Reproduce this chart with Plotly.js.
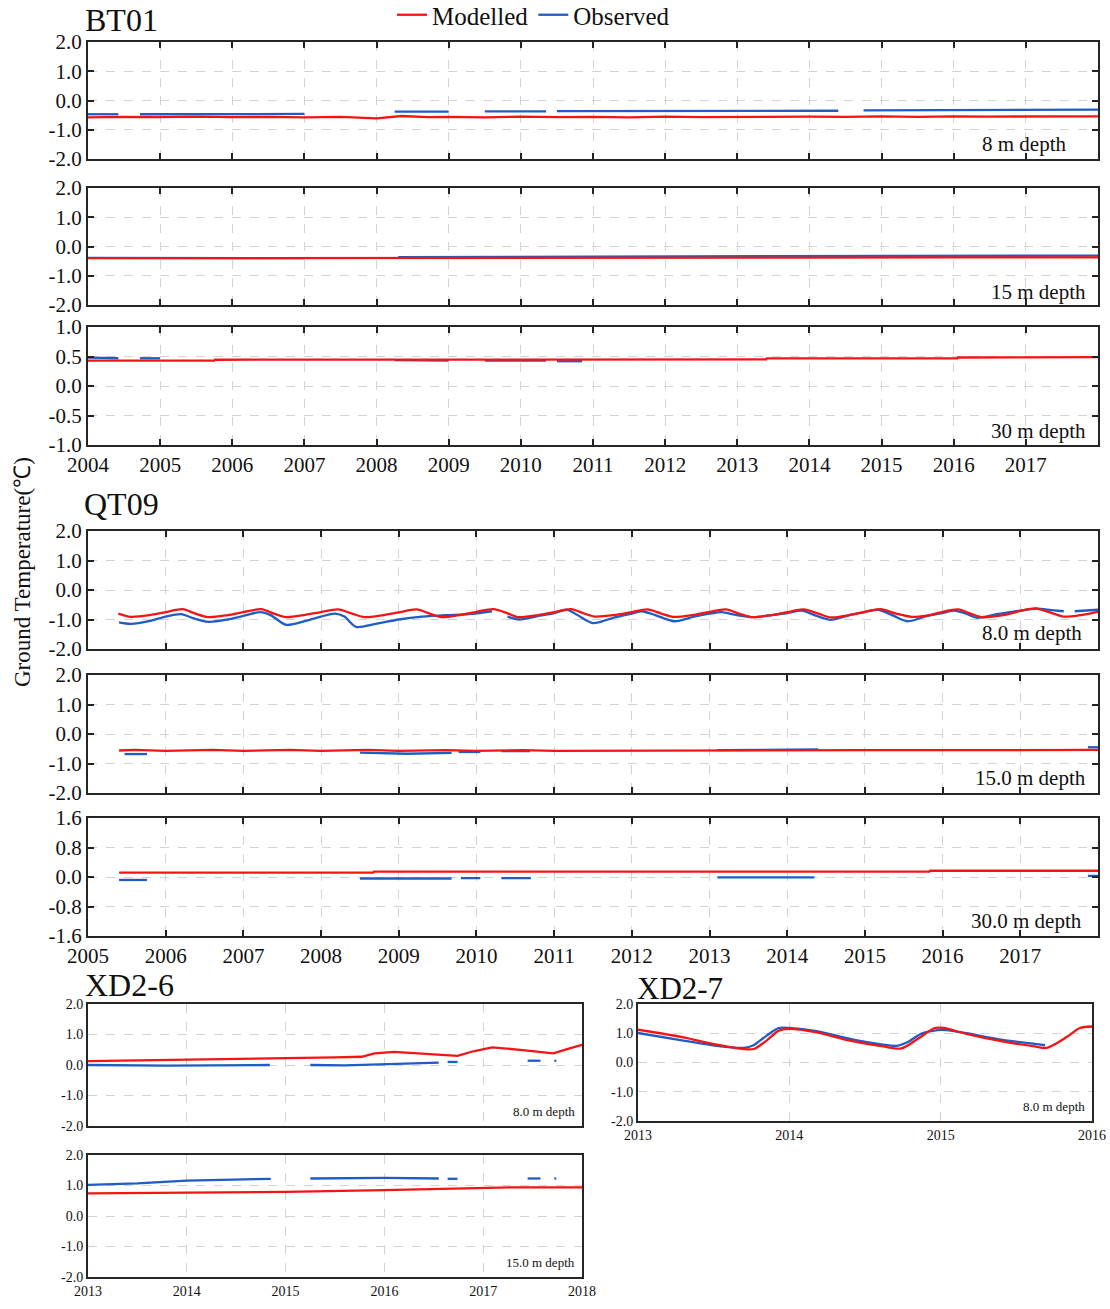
<!DOCTYPE html>
<html>
<head>
<meta charset="utf-8">
<script src="https://cdn.plot.ly/plotly-3.0.1.min.js"></script>
<style>html,body{margin:0;padding:0;background:#fff;}#chart{width:1110px;height:1309px;}</style>
</head>
<body>
<div id="chart"></div>
<script>
// ================= DATA =================
// Tick labels
const bt01Years = [2004,2005,2006,2007,2008,2009,2010,2011,2012,2013,2014,2015,2016,2017];
const qt09Years = [2005,2006,2007,2008,2009,2010,2011,2012,2013,2014,2015,2016,2017];
const xd26Years = [2013,2014,2015,2016,2017,2018];
const xd27Years = [2013,2014,2015,2016];
const tempTicks2 = [-2,-1,0,1,2];
const tempLabels2 = ['-2.0','-1.0','0.0','1.0','2.0'];
const tempTicks1 = [-1,-0.5,0,0.5,1];
const tempLabels1 = ['-1.0','-0.5','0.0','0.5','1.0'];
const tempTicks16 = [-1.6,-0.8,0,0.8,1.6];
const tempLabels16 = ['-1.6','-0.8','0.0','0.8','1.6'];

// BT01 8 m
const bt01_8_modX = [2004.0,2004.5,2005.0,2005.5,2006.0,2006.5,2007.0,2007.5,2008.0,2008.35,2008.7,2009.0,2009.5,2010.0,2010.5,2011.0,2011.5,2012.0,2012.5,2013.0,2013.5,2014.0,2014.5,2015.0,2015.5,2016.0,2016.5,2017.0,2017.5,2018.0];
const bt01_8_modY = [-0.58,-0.56,-0.57,-0.55,-0.57,-0.56,-0.58,-0.56,-0.61,-0.53,-0.57,-0.56,-0.58,-0.55,-0.57,-0.56,-0.58,-0.55,-0.57,-0.56,-0.57,-0.55,-0.56,-0.54,-0.56,-0.54,-0.55,-0.54,-0.55,-0.54];
const bt01_8_obsX = [2004.0,2004.42,null,2004.72,2005.5,2006.5,2007.0,null,2008.25,2009.0,null,2009.5,2010.35,null,2010.5,2011.5,2012.5,2013.5,2014.4,null,2014.75,2015.5,2016.5,2017.5,2018.0];
const bt01_8_obsY = [-0.47,-0.47,null,-0.47,-0.46,-0.46,-0.46,null,-0.38,-0.38,null,-0.37,-0.37,null,-0.36,-0.36,-0.35,-0.35,-0.35,null,-0.34,-0.33,-0.33,-0.32,-0.31];
// BT01 15 m
const bt01_15_modX = [2004.0,2006.0,2008.0,2010.0,2012.0,2014.0,2016.0,2018.0];
const bt01_15_modY = [-0.4,-0.4,-0.39,-0.39,-0.38,-0.38,-0.37,-0.37];
const bt01_15_obsX = [2004.0,2005.0,2006.0,2007.0,null,2008.3,2010.0,2012.0,2014.0,2016.0,2018.0];
const bt01_15_obsY = [-0.39,-0.39,-0.4,-0.4,null,-0.36,-0.35,-0.34,-0.33,-0.32,-0.31];
// BT01 30 m
const bt01_30_modX = [2004.0,2005.75,2005.76,2008.3,2010.0,2013.4,2013.41,2016.05,2016.06,2018.0];
const bt01_30_modY = [0.43,0.43,0.445,0.445,0.45,0.45,0.467,0.47,0.483,0.49];
const bt01_30_obsX = [2004.0,2004.42,null,2004.72,2005.0,null,2008.25,2009.0,null,2009.5,2010.35,null,2010.5,2010.85];
const bt01_30_obsY = [0.48,0.47,null,0.47,0.47,null,0.44,0.43,null,0.43,0.43,null,0.42,0.42];

// QT09 8.0 m
const qt09_8_modX = [2005.39,2005.55,2005.8,
  2006.0,2006.22,2006.38,2006.55,2006.8,
  2007.0,2007.23,2007.4,2007.55,2007.8,
  2008.0,2008.22,2008.4,2008.56,2008.8,
  2009.0,2009.23,2009.4,2009.55,2009.8,
  2010.0,2010.22,2010.4,2010.53,2010.8,
  2011.0,2011.22,2011.38,2011.52,2011.8,
  2012.0,2012.2,2012.38,2012.53,2012.8,
  2013.0,2013.21,2013.38,2013.54,2013.8,
  2014.0,2014.21,2014.4,2014.56,2014.8,
  2015.0,2015.2,2015.4,2015.6,2015.85,
  2016.0,2016.2,2016.36,2016.5,2016.8,
  2017.0,2017.19,2017.38,2017.56,2017.8,
  2018.0];
const qt09_8_modY = [-0.8,-0.91,-0.85,
  -0.75,-0.65,-0.8,-0.92,-0.85,
  -0.75,-0.65,-0.81,-0.92,-0.84,
  -0.75,-0.66,-0.8,-0.92,-0.85,
  -0.76,-0.66,-0.8,-0.92,-0.84,
  -0.74,-0.65,-0.79,-0.92,-0.85,
  -0.75,-0.65,-0.79,-0.9,-0.84,
  -0.75,-0.66,-0.8,-0.91,-0.84,
  -0.74,-0.66,-0.8,-0.92,-0.85,
  -0.75,-0.66,-0.8,-0.93,-0.85,
  -0.74,-0.65,-0.8,-0.91,-0.84,
  -0.74,-0.66,-0.8,-0.92,-0.84,
  -0.71,-0.62,-0.76,-0.9,-0.84,
  -0.74];
const qt09_8_obsX = [2005.4,2005.55,2005.8,2006.0,2006.2,2006.35,2006.55,2006.8,2007.0,2007.22,2007.35,2007.55,2007.8,2008.0,2008.18,2008.3,2008.45,2008.7,2009.0,2009.3,2009.6,2009.9,2010.2,null,
  2010.4,2010.55,2010.8,2011.0,2011.17,2011.3,2011.5,2011.75,2012.0,2012.13,2012.3,2012.55,2012.8,2013.0,2013.16,2013.35,2013.58,2013.8,2014.0,2014.19,2014.35,2014.56,2014.8,2015.0,2015.17,2015.35,2015.55,2015.8,2016.0,2016.15,2016.3,2016.44,2016.7,2017.0,2017.21,2017.4,2017.56,null,2017.7,2018.0];
const qt09_8_obsY = [-1.1,-1.15,-1.05,-0.9,-0.82,-0.95,-1.08,-1.0,-0.88,-0.75,-0.85,-1.18,-1.05,-0.9,-0.8,-0.9,-1.25,-1.15,-1.0,-0.9,-0.85,-0.82,-0.72,null,
  -0.9,-1.0,-0.88,-0.78,-0.67,-0.85,-1.12,-0.95,-0.8,-0.72,-0.85,-1.06,-0.9,-0.8,-0.75,-0.85,-0.92,-0.85,-0.78,-0.7,-0.85,-1.01,-0.85,-0.75,-0.67,-0.85,-1.06,-0.88,-0.78,-0.7,-0.8,-0.94,-0.82,-0.7,-0.63,-0.68,-0.72,null,-0.72,-0.67];
// QT09 15.0 m
const qt09_15_modX = [2005.4,2005.6,2006.0,2006.6,2007.0,2007.6,2008.0,2008.6,2009.0,2009.6,2010.0,2010.6,2011.0,2012.0,2013.0,2014.0,2015.0,2016.0,2017.0,2018.0];
const qt09_15_modY = [-0.56,-0.54,-0.57,-0.54,-0.57,-0.54,-0.57,-0.54,-0.57,-0.55,-0.57,-0.55,-0.57,-0.56,-0.56,-0.56,-0.55,-0.55,-0.55,-0.54];
const qt09_15_obsX = [2005.47,2005.76,null,2008.5,2009.1,2009.68,null,2009.77,2010.05,null,2010.32,2010.69,null,2013.1,2013.8,2014.4,null,2017.87,2018.0];
const qt09_15_obsY = [-0.68,-0.68,null,-0.63,-0.67,-0.64,null,-0.61,-0.61,null,-0.58,-0.58,null,-0.55,-0.53,-0.52,null,-0.45,-0.45];
// QT09 30.0 m
const qt09_30_modX = [2005.4,2008.67,2008.68,2015.83,2015.84,2018.0];
const qt09_30_modY = [0.12,0.12,0.145,0.145,0.17,0.17];
const qt09_30_obsX = [2005.4,2005.76,null,2008.5,2009.68,null,2009.8,2010.05,null,2010.32,2010.7,null,2013.1,2014.35,null,2017.87,2018.0];
const qt09_30_obsY = [-0.08,-0.08,null,-0.04,-0.04,null,-0.03,-0.03,null,-0.03,-0.03,null,-0.01,-0.01,null,0.03,0.03];

// XD2-6 8.0 m
const xd26_8_modX = [2013.0,2013.5,2014.0,2014.5,2015.0,2015.5,2015.77,2015.9,2016.1,2016.4,2016.74,2016.9,2017.09,2017.4,2017.71,2017.85,2018.0];
const xd26_8_modY = [0.13,0.15,0.17,0.19,0.21,0.25,0.27,0.38,0.43,0.37,0.3,0.45,0.58,0.49,0.38,0.52,0.66];
const xd26_8_obsX = [2013.0,2013.8,2014.84,null,2015.25,2015.6,2015.95,2016.2,2016.55,null,2016.64,2016.74,null,2017.45,2017.58,null,2017.72,2017.74];
const xd26_8_obsY = [0.0,-0.02,0.0,null,0.0,-0.01,0.02,0.05,0.08,null,0.1,0.1,null,0.14,0.14,null,0.14,0.14];
// XD2-6 15.0 m
const xd26_15_modX = [2013.0,2014.0,2015.0,2016.0,2016.5,2017.0,2017.3,2018.0];
const xd26_15_modY = [0.74,0.76,0.79,0.85,0.88,0.9,0.94,0.94];
const xd26_15_obsX = [2013.0,2013.5,2014.0,2014.5,2014.85,null,2015.25,2016.0,2016.55,null,2016.64,2016.74,null,2017.45,2017.58,null,2017.72,2017.74];
const xd26_15_obsY = [1.02,1.07,1.16,1.19,1.22,null,1.23,1.25,1.23,null,1.22,1.22,null,1.23,1.23,null,1.23,1.23];
// XD2-7 8.0 m
const xd27_8_modX = [2013.0,2013.3,2013.52,2013.72,2013.77,2013.85,2013.93,2014.0,2014.18,2014.4,2014.62,2014.74,2014.85,2014.96,2015.02,2015.17,2015.4,2015.62,2015.7,2015.83,2015.92,2016.0];
const xd27_8_modY = [1.12,0.86,0.61,0.45,0.47,0.75,1.09,1.15,1.03,0.75,0.55,0.48,0.81,1.18,1.18,0.98,0.73,0.55,0.5,0.86,1.18,1.23];
const xd27_8_obsX = [2013.0,2013.3,2013.52,2013.7,2013.76,2013.85,2013.93,2014.0,2014.18,2014.4,2014.62,2014.71,2014.78,2014.87,2014.98,2015.04,2015.17,2015.4,2015.62,2015.69];
const xd27_8_obsY = [1.01,0.75,0.57,0.5,0.58,0.92,1.18,1.18,1.07,0.81,0.61,0.57,0.69,0.98,1.11,1.11,1.0,0.78,0.64,0.59];

// ================= LAYOUT HELPERS =================
const W = 1110, H = 1309;
const RED = '#f51414', BLUE = '#1f5cc6';
const FONT = 'Liberation Serif, Times New Roman, serif';
function dx(a,b){return [a/W, b/W];}
function dy(top,bottom){return [1-bottom/H, 1-top/H];}

const panels = [
  {x:[88,1098], y:[42,159],   xr:[2004,2018], xt:bt01Years, showX:false, yt:tempTicks2, yl:tempLabels2, yr:[-2,2], mod:[bt01_8_modX,bt01_8_modY], obs:[bt01_8_obsX,bt01_8_obsY], depth:'8 m depth', dxp:0.970, dyp:0.128, big:true, spline:false},
  {x:[88,1098], y:[188,305],  xr:[2004,2018], xt:bt01Years, showX:false, yt:tempTicks2, yl:tempLabels2, yr:[-2,2], mod:[bt01_15_modX,bt01_15_modY], obs:[bt01_15_obsX,bt01_15_obsY], depth:'15 m depth', dxp:0.99, dyp:0.11, big:true, spline:false},
  {x:[88,1098], y:[327,445],  xr:[2004,2018], xt:bt01Years, showX:true, yt:tempTicks1, yl:tempLabels1, yr:[-1,1], mod:[bt01_30_modX,bt01_30_modY], obs:[bt01_30_obsX,bt01_30_obsY], depth:'30 m depth', dxp:0.99, dyp:0.12, big:true, spline:false},
  {x:[88,1098], y:[531,649],  xr:[2005,2018], xt:qt09Years, showX:false, yt:tempTicks2, yl:tempLabels2, yr:[-2,2], mod:[qt09_8_modX,qt09_8_modY], obs:[qt09_8_obsX,qt09_8_obsY], depth:'8.0 m depth', dxp:0.986, dyp:0.135, big:true, spline:true},
  {x:[88,1098], y:[675,793],  xr:[2005,2018], xt:qt09Years, showX:false, yt:tempTicks2, yl:tempLabels2, yr:[-2,2], mod:[qt09_15_modX,qt09_15_modY], obs:[qt09_15_obsX,qt09_15_obsY], depth:'15.0 m depth', dxp:0.99, dyp:0.127, big:true, spline:false},
  {x:[88,1098], y:[818,936],  xr:[2005,2018], xt:qt09Years, showX:true, yt:tempTicks16, yl:tempLabels16, yr:[-1.6,1.6], mod:[qt09_30_modX,qt09_30_modY], obs:[qt09_30_obsX,qt09_30_obsY], depth:'30.0 m depth', dxp:0.986, dyp:0.127, big:true, spline:false},
  {x:[88,582],  y:[1004,1126],xr:[2013,2018], xt:xd26Years, showX:false, yt:tempTicks2, yl:tempLabels2, yr:[-2,2], mod:[xd26_8_modX,xd26_8_modY], obs:[xd26_8_obsX,xd26_8_obsY], depth:'8.0 m depth', dxp:0.99, dyp:0.115, big:false, spline:false},
  {x:[88,582],  y:[1155,1277],xr:[2013,2018], xt:xd26Years, showX:true, yt:tempTicks2, yl:tempLabels2, yr:[-2,2], mod:[xd26_15_modX,xd26_15_modY], obs:[xd26_15_obsX,xd26_15_obsY], depth:'15.0 m depth', dxp:0.99, dyp:0.115, big:false, spline:false},
  {x:[638,1092],y:[1004,1121],xr:[2013,2016], xt:xd27Years, showX:true, yt:tempTicks2, yl:tempLabels2, yr:[-2,2], mod:[xd27_8_modX,xd27_8_modY], obs:[xd27_8_obsX,xd27_8_obsY], depth:'8.0 m depth', dxp:0.99, dyp:0.12, big:false, spline:true}
];

const traces = [];
const layout = {
  width: W, height: H,
  margin: {l:0, r:0, t:0, b:0, autoexpand:false},
  paper_bgcolor: '#ffffff', plot_bgcolor: '#ffffff',
  font: {family: FONT, color: '#111111'},
  showlegend: true,
  legend: {orientation:'h', x: 392/W, y: 1 + 8/H, xanchor:'left', yanchor:'top',
           font:{family:FONT, size:25, color:'#111'}, bgcolor:'rgba(0,0,0,0)',
           itemwidth:30, tracegroupgap:0, borderwidth:0},
  annotations: [],
};

panels.forEach((p, i) => {
  const n = i + 1;
  const xa = n === 1 ? 'x' : 'x' + n;
  const ya = n === 1 ? 'y' : 'y' + n;
  const tickSize = p.big ? 21 : 14;
  layout['xaxis' + (n===1?'':n)] = {
    domain: dx(p.x[0], p.x[1]), anchor: ya, range: p.xr,
    tickmode: 'array', tickvals: p.xt, ticktext: p.xt.map(String),
    showticklabels: p.showX,
    tickfont: {family: FONT, size: tickSize, color: '#111'},
    ticks: p.big ? 'inside' : '', ticklen: 6, tickwidth: 2, tickcolor: '#222',
    showline: true, linecolor: '#262626', linewidth: 2, mirror: p.big ? 'ticks' : true,
    showgrid: true, gridcolor: '#d3d3d3', gridwidth: 1, griddash: 'dash',
    zeroline: false, fixedrange: true, automargin: false
  };
  layout['yaxis' + (n===1?'':n)] = {
    domain: dy(p.y[0], p.y[1]), anchor: xa, range: p.yr,
    tickmode: 'array', tickvals: p.yt, ticktext: p.yl,
    tickfont: {family: FONT, size: tickSize, color: '#111'},
    ticks: p.big ? 'inside' : '', ticklen: 6, tickwidth: 2, tickcolor: '#222',
    showline: true, linecolor: '#262626', linewidth: 2, mirror: p.big ? 'ticks' : true,
    showgrid: true, gridcolor: '#d3d3d3', gridwidth: 1, griddash: 'dash',
    zeroline: false, fixedrange: true, automargin: false
  };
  traces.push({
    x: p.obs[0], y: p.obs[1], xaxis: xa, yaxis: ya, type: 'scatter', mode: 'lines',
    name: 'Observed', legendrank: 2, showlegend: n === 1, connectgaps: false,
    line: {color: BLUE, width: 2.3, shape: p.spline ? 'spline' : 'linear', smoothing: 0.8},
    hoverinfo: 'skip'
  });
  traces.push({
    x: p.mod[0], y: p.mod[1], xaxis: xa, yaxis: ya, type: 'scatter', mode: 'lines',
    name: 'Modelled', legendrank: 1, showlegend: n === 1, connectgaps: false,
    line: {color: RED, width: 2.3, shape: p.spline ? 'spline' : 'linear', smoothing: 0.8},
    hoverinfo: 'skip'
  });
  layout.annotations.push({
    text: p.depth, xref: xa + ' domain', yref: ya + ' domain',
    x: p.dxp, y: p.dyp, xanchor: 'right', yanchor: 'middle', showarrow: false,
    font: {family: FONT, size: p.big ? 21 : 13, color: '#111'}
  });
});

// Station titles
[['BT01', 84, 20, 32], ['QT09', 83, 504, 32], ['XD2-6', 84, 985, 32], ['XD2-7', 636, 988, 31]].forEach(t => {
  layout.annotations.push({
    text: t[0], xref: 'paper', yref: 'paper', x: t[1]/W, y: 1 - t[2]/H,
    xanchor: 'left', yanchor: 'middle', showarrow: false, borderpad: 0,
    font: {family: FONT, size: t[3], color: '#111'}
  });
});
// Shared y-axis title
layout.annotations.push({
  text: 'Ground Temperature(℃)', xref: 'paper', yref: 'paper', x: 22/W, y: 1 - 572/H,
  xanchor: 'center', yanchor: 'middle', textangle: -90, showarrow: false,
  font: {family: FONT, size: 23, color: '#111'}
});

Plotly.newPlot('chart', traces, layout, {displayModeBar: false, staticPlot: true});
</script>
</body>
</html>
